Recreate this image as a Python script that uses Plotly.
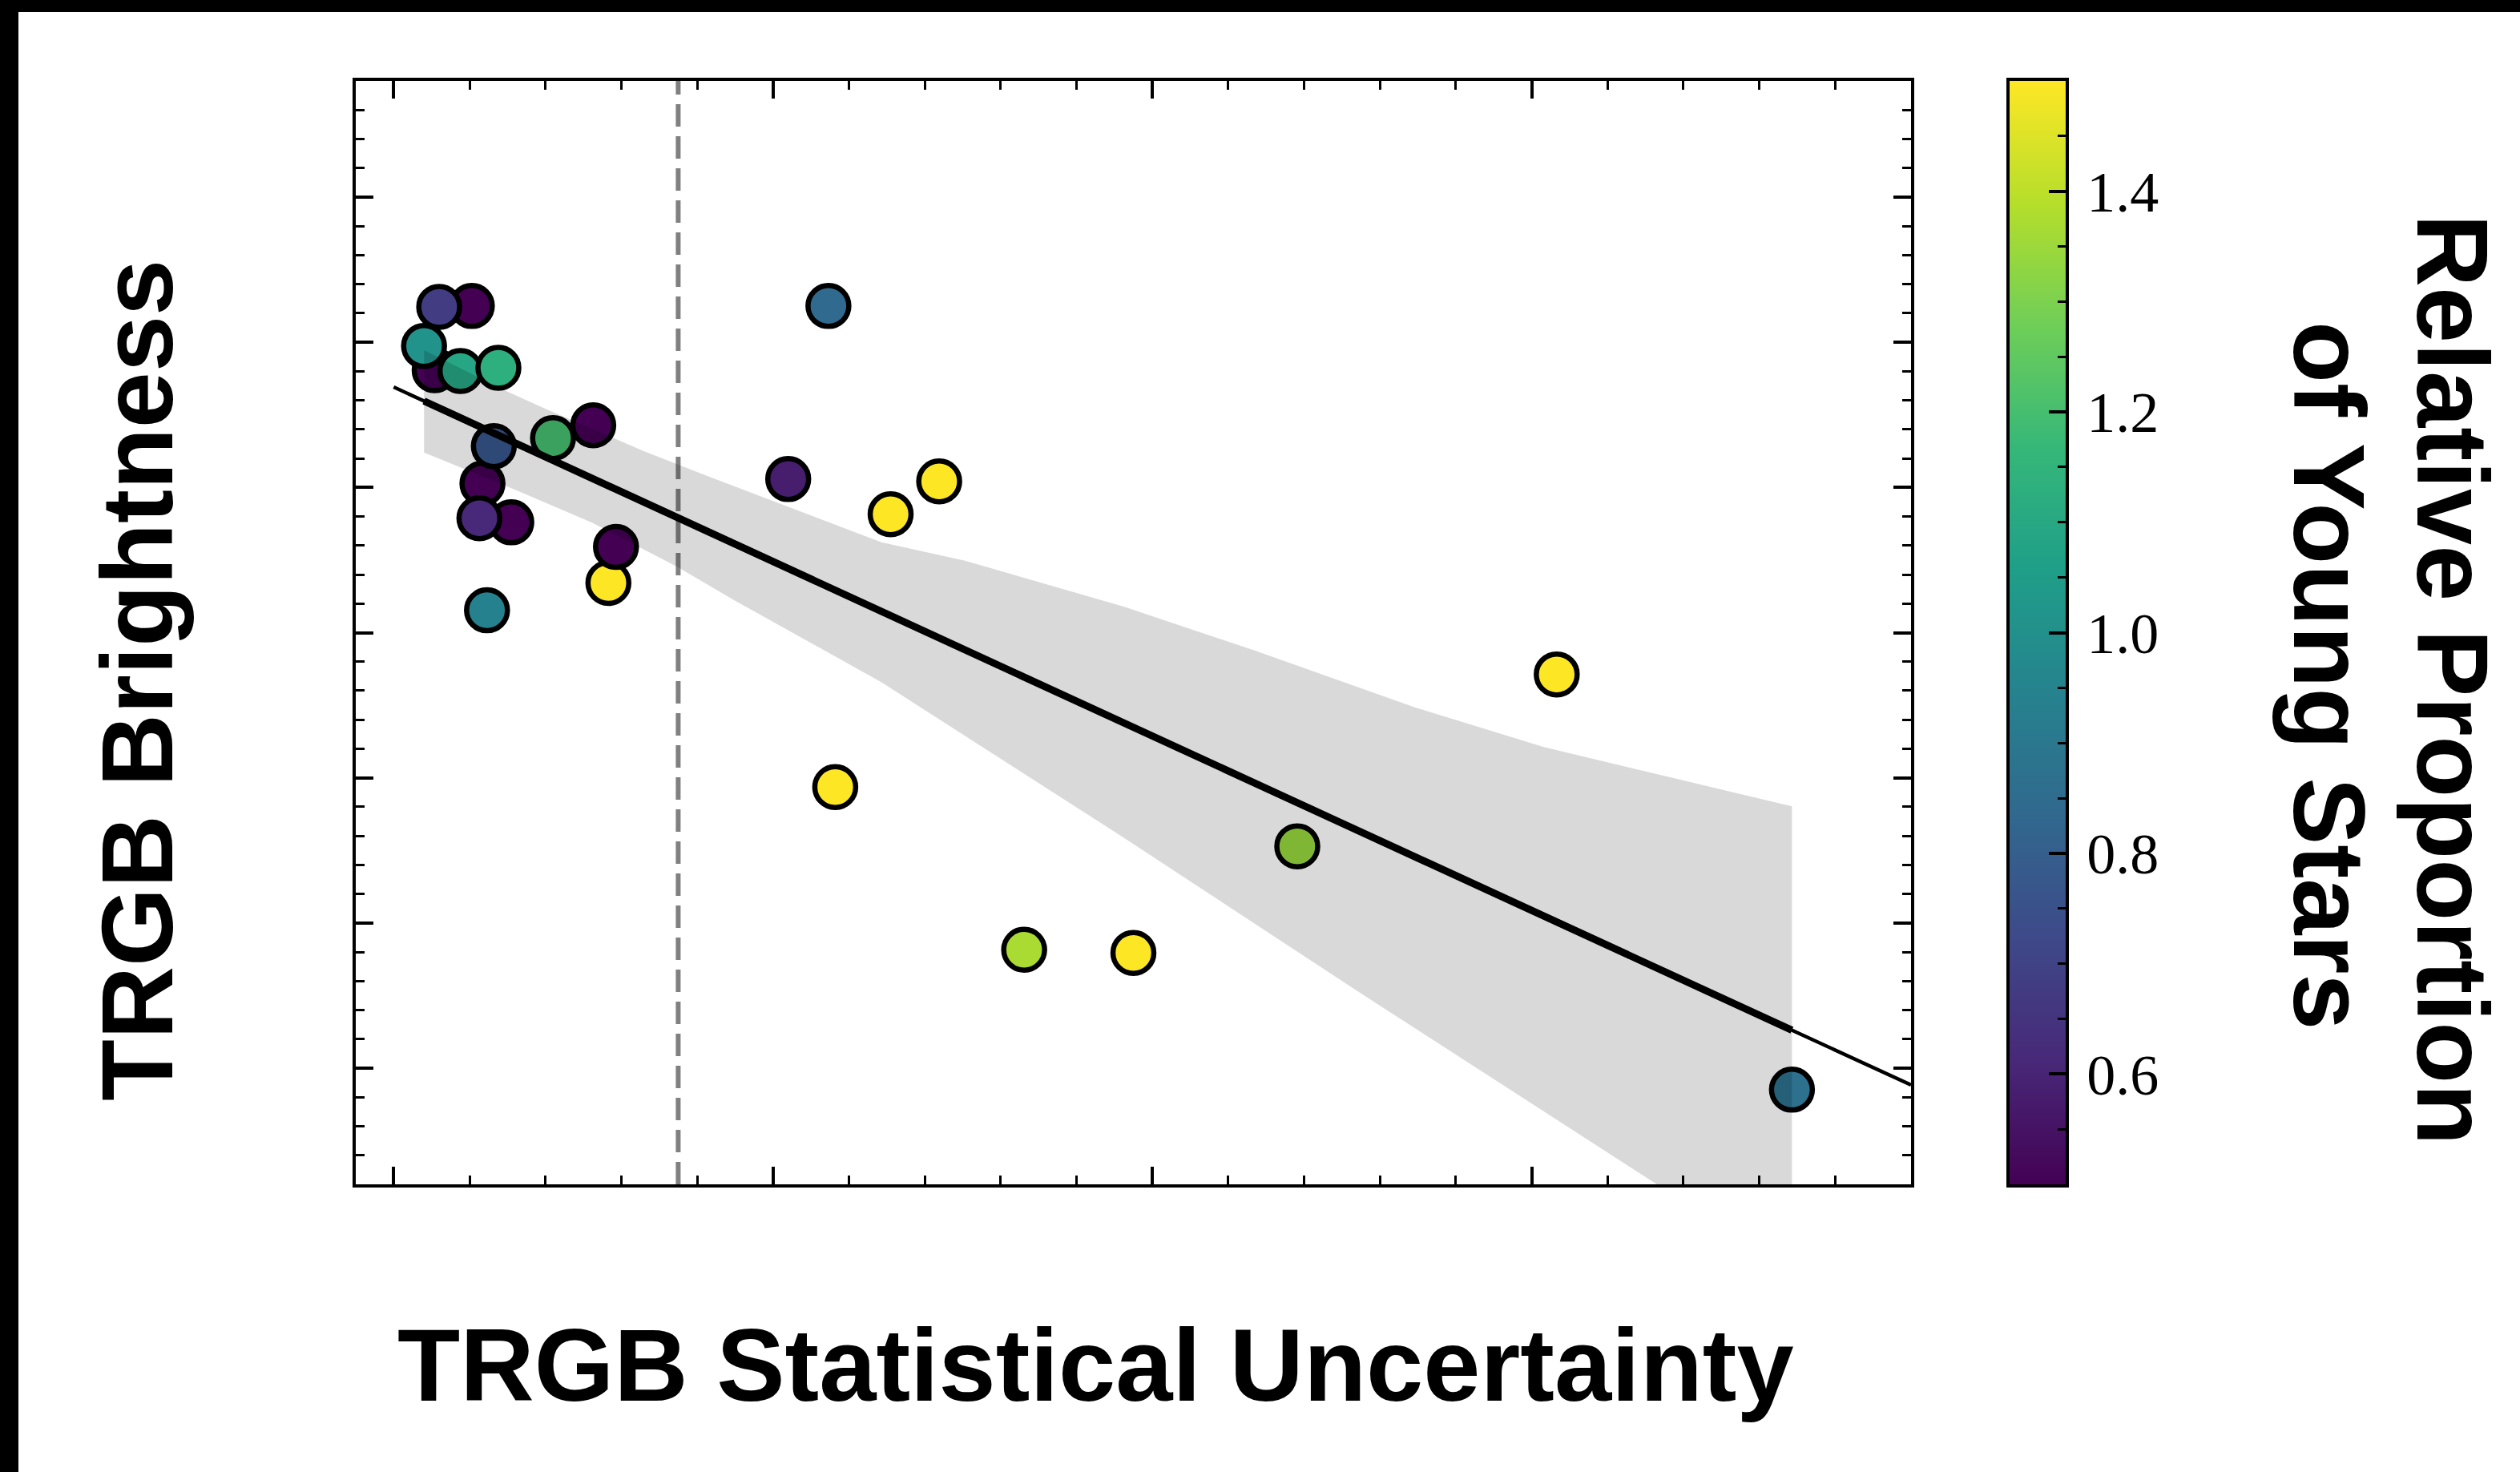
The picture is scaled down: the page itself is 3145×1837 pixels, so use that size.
import numpy as np
import plotly.graph_objects as go

# ---- data -------------------------------------------------------------
trgb_uncertainty = [0.0103, 0.0060, 0.0054, 0.0040, 0.0088, 0.0138, 0.0117, 0.0132,
                    0.0155, 0.0113, 0.0283, 0.0293, 0.0210, 0.0263, 0.0123, 0.0573,
                    0.0520, 0.0655, 0.0719, 0.1533, 0.0582, 0.1191, 0.0831, 0.0975,
                    0.1843]
trgb_brightness = [0.2625, 0.2622, 0.2404, 0.2487, 0.2401, 0.2412, 0.2013, 0.2142,
                   0.1880, 0.1894, 0.1671, 0.1795, 0.2170, 0.2214, 0.1577, 0.2625,
                   0.2029, 0.1908, 0.2021, 0.1356, 0.0968, 0.0764, 0.0408, 0.0397,
                   -0.0074]
young_fraction = [0.50, 0.68, 0.50, 1.01, 1.09, 1.13, 0.50, 0.77,
                  0.50, 0.61, 1.50, 0.50, 1.20, 0.50, 0.94, 0.84,
                  0.58, 1.50, 1.50, 1.50, 1.50, 1.34, 1.37, 1.50,
                  0.87]

# bootstrap confidence band of the regression
band_upper_x = [0.0040, 0.0146, 0.0199, 0.0329, 0.0410, 0.0643, 0.0753, 0.0964,
                0.1134, 0.1346, 0.1516, 0.1843]
band_upper_y = [0.2473, 0.2335, 0.2272, 0.2126, 0.2043, 0.1811, 0.1748, 0.1588,
                0.1439, 0.1243, 0.1106, 0.0902]
band_lower_x = [0.0040, 0.0164, 0.0262, 0.0374, 0.0450, 0.0643, 0.0964, 0.1277,
                0.1663, 0.1843]
band_lower_y = [0.2120, 0.1988, 0.1878, 0.1726, 0.1610, 0.1329, 0.0791, 0.0254,
                -0.0397, -0.0700]

uncertainty_cut = 0.0375
color_min, color_max = 0.5, 1.5
x_range = [-0.005, 0.2]
y_range = [-0.04, 0.34]
cbar_ticks = [0.6, 0.8, 1.0, 1.2, 1.4]

# ---- regression -------------------------------------------------------
xs = np.array(trgb_uncertainty)
ys = np.array(trgb_brightness)
slope, intercept = np.polyfit(xs, ys, 1)
fit_x_data = np.array([xs.min(), xs.max()])
fit_x_full = np.array([0.0, x_range[1]])

# ---- geometry (pixels) --------------------------------------------------
W, H = 3145, 1837
ML, MR, MT, MB = 444, 567, 101, 359
PW, PH = W - ML - MR, H - MT - MB


def px(X):
    return (X - ML) / PW


def py(Y):
    return (H - MB - Y) / PH


plot_right = px(2385)
cbar_left = px(2508)

fig = go.Figure()

fig.add_trace(go.Scatter(
    x=trgb_uncertainty, y=trgb_brightness, mode="markers",
    marker=dict(size=51, color=young_fraction, colorscale="Viridis",
                cmin=color_min, cmax=color_max, showscale=False,
                line=dict(color="black", width=6.5)),
    showlegend=False, hoverinfo="skip"))

band_x = band_upper_x + band_lower_x[::-1]
band_y = band_upper_y + band_lower_y[::-1]
fig.add_trace(go.Scatter(
    x=band_x, y=band_y, mode="lines", fill="toself",
    fillcolor="rgba(0,0,0,0.15)", line=dict(width=0),
    showlegend=False, hoverinfo="skip"))

fig.add_trace(go.Scatter(
    x=fit_x_data, y=intercept + slope * fit_x_data, mode="lines",
    line=dict(color="black", width=9), showlegend=False, hoverinfo="skip"))
fig.add_trace(go.Scatter(
    x=fit_x_full, y=intercept + slope * fit_x_full, mode="lines",
    line=dict(color="black", width=4.5), showlegend=False, hoverinfo="skip"))

# colour bar drawn as a smoothed two-level heatmap on its own axes
fig.add_trace(go.Heatmap(
    x=[0, 1], y=[color_min, color_max],
    z=[[color_min, color_min], [color_max, color_max]],
    colorscale="Viridis", zmin=color_min, zmax=color_max, zsmooth="best",
    showscale=False, xaxis="x2", yaxis="y2", hoverinfo="skip"))

axis_common = dict(showgrid=False, zeroline=False, showline=True,
                   linecolor="black", linewidth=3.5, mirror="allticks",
                   ticks="inside", ticklen=22, tickwidth=3.5, tickcolor="black",
                   showticklabels=False)

fig.update_layout(
    width=W, height=H,
    margin=dict(l=ML, r=MR, t=MT, b=MB, pad=0),
    paper_bgcolor="white", plot_bgcolor="white",
    xaxis=dict(domain=[0, plot_right], range=x_range, tick0=0, dtick=0.05,
               minor=dict(dtick=0.01, ticks="inside", ticklen=11, tickwidth=3,
                          tickcolor="black"),
               anchor="y", **axis_common),
    yaxis=dict(domain=[0, 1], range=y_range, tick0=0, dtick=0.05,
               minor=dict(dtick=0.01, ticks="inside", ticklen=11, tickwidth=3,
                          tickcolor="black"),
               anchor="x", **axis_common),
    xaxis2=dict(domain=[cbar_left, 1.0], range=[0, 1], anchor="y2",
                showgrid=False, zeroline=False, showticklabels=False, ticks="",
                showline=True, linecolor="black", linewidth=3.5, mirror=True),
    yaxis2=dict(domain=[0, 1], range=[color_min, color_max], anchor="x2",
                side="right", showgrid=False, zeroline=False,
                tickmode="array", tickvals=cbar_ticks,
                ticktext=[f"{v:.1f}" for v in cbar_ticks],
                ticks="inside", ticklen=21, tickwidth=3.5, tickcolor="black",
                minor=dict(dtick=0.05, tick0=0.5, ticks="inside", ticklen=10,
                           tickwidth=3, tickcolor="black"),
                showline=True, linecolor="black", linewidth=3.5, mirror=True,
                ticklabelstandoff=8,
                tickfont=dict(family="Liberation Serif", size=72, color="black")),
)

# threshold on the uncertainty
fig.add_shape(type="line", xref="x", yref="paper", x0=uncertainty_cut,
              x1=uncertainty_cut, y0=0, y1=1, layer="below",
              line=dict(color="#808080", width=6, dash="28px,12px"))

# black frame along the top and left edges of the canvas
fig.add_shape(type="rect", xref="paper", yref="paper", x0=px(-10), x1=px(W + 10),
              y0=py(15), y1=py(-10), fillcolor="black", line=dict(width=0))
fig.add_shape(type="rect", xref="paper", yref="paper", x0=px(-10), x1=px(23),
              y0=py(H + 10), y1=py(-10), fillcolor="black", line=dict(width=0))

title_font = dict(family="Liberation Sans, Arial, sans-serif", size=126, color="black")
fig.add_annotation(text="<b>TRGB Statistical Uncertainty</b>", xref="paper", yref="paper",
                   x=px(1367), y=py(1703), xanchor="center", yanchor="middle",
                   showarrow=False, font=dict(title_font, size=128))
fig.add_annotation(text="<b>TRGB Brightness</b>", xref="paper", yref="paper",
                   x=px(171), y=py(849), xanchor="center", yanchor="middle",
                   textangle=-90, showarrow=False, font=title_font)
fig.add_annotation(text="<b>Relative Proportion</b>", xref="paper", yref="paper",
                   x=px(3061), y=py(848), xanchor="center", yanchor="middle",
                   textangle=90, showarrow=False, font=title_font)
fig.add_annotation(text="<b>of Young Stars</b>", xref="paper", yref="paper",
                   x=px(2907), y=py(843), xanchor="center", yanchor="middle",
                   textangle=90, showarrow=False, font=title_font)

fig.write_html("out.html")
